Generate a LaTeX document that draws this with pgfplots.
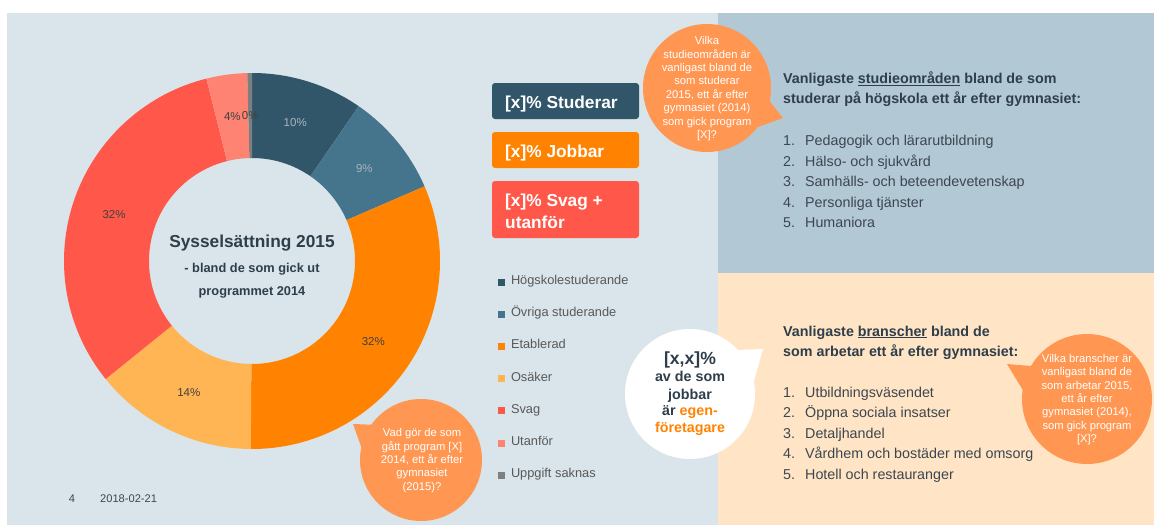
\documentclass[border=0pt]{standalone}
\usepackage{fontspec}
\setmainfont{Liberation Sans}
\usepackage{pgfplots}
\usepackage{pgfplotstable}
\pgfplotsset{compat=1.18}

\definecolor{bgleft}{HTML}{D9E5EA}
\definecolor{bgtop}{HTML}{B3C8D5}
\definecolor{bgbot}{HTML}{FFE5C6}
\definecolor{cHog}{HTML}{31566A}
\definecolor{cOvr}{HTML}{44758D}
\definecolor{cEta}{HTML}{FF8300}
\definecolor{cOsa}{HTML}{FFB554}
\definecolor{cSva}{HTML}{FF584A}
\definecolor{cUta}{HTML}{FF8373}
\definecolor{cSak}{HTML}{7F7F7F}
\definecolor{bubble}{HTML}{FF9752}
\definecolor{headtxt}{HTML}{2E3E4B}
\definecolor{listtxt}{HTML}{3C4650}
\definecolor{labdark}{HTML}{404040}
\definecolor{lablight}{HTML}{A9B4BC}
\definecolor{legtxt}{HTML}{595959}

% andel i procent, medurs fran kl. 12
\pgfplotstableread{
value col  tcol     lab
9.6   cHog lablight 10
8.9   cOvr lablight 9
31.6  cEta labdark  32
14.1  cOsa labdark  14
31.9  cSva labdark  32
3.5   cUta labdark  4
0.4   cSak labdark  0
}\donut

\newcommand\fsz[2]{\fontsize{#1}{#2}\selectfont}

\begin{document}
\begin{tikzpicture}[x=1pt,y=-1pt,
  pielab/.style={inner sep=0pt, font=\fsz{11.5}{13}},
  boxtxt/.style={inner sep=0pt, text=white, font=\fsz{17.3}{20}\bfseries},
  head/.style={inner sep=0pt, anchor=base west, text=headtxt, font=\fsz{14.3}{17}\bfseries},
  item/.style={inner sep=0pt, anchor=base west, text=listtxt, font=\fsz{14.3}{17}},
  bub/.style={inner sep=0pt, text=white, align=center, font=\fsz{11.2}{13.4}}]

\path[use as bounding box] (0,0) rectangle (1154,525);
\fill[white] (0,0) rectangle (1154,525);
\fill[bgleft] (7,13) rectangle (718,525);
\fill[bgtop] (718,13) rectangle (1154,273);
\fill[bgbot] (718,273) rectangle (1154,525);

\begin{axis}[x=1pt, y=1pt, xmin=0, xmax=1154, ymin=0, ymax=525,
  at={(0pt,-525pt)}, anchor=south west, hide axis, clip=false,
  legend style={at={(axis cs:498,248)}, anchor=north west, draw=none, fill=none,
    inner sep=0pt, outer sep=0pt, row sep=22.2pt,
    font=\fsz{12.8}{14}, text=legtxt,
    nodes={inner sep=0pt, text height=0.75em, text depth=0.25em}},
  legend cell align=left,
  legend image code/.code={\fill[#1, draw=none] (0pt,-3.5pt) rectangle (7pt,3.5pt);
    \path[draw=none, fill=none] (0pt,0pt) -- (13pt,0pt);},
]
\pgfplotstablegetrowsof{\donut}
\pgfmathtruncatemacro\nlast{\pgfplotsretval-1}
\def\cum{0}
\pgfplotsforeachungrouped \i in {0,...,\nlast}{%
  \pgfplotstablegetelem{\i}{value}\of\donut \let\val\pgfplotsretval
  \pgfplotstablegetelem{\i}{col}\of\donut \let\col\pgfplotsretval
  \pgfmathsetmacro\aS{90-3.6*\cum}
  \pgfmathsetmacro\aE{90-3.6*(\cum+\val)}
  \pgfmathsetmacro\aI{\aE+180}
  \pgfmathsetmacro\xo{252+188*cos(\aS)}
  \pgfmathsetmacro\yo{264+188*sin(\aS)}
  \edef\doslice{\noexpand\fill[\col] (axis cs:\xo,\yo)
    arc[start angle=\aS, end angle=\aE, radius=188pt]
    -- ++(\aI:85pt) arc[start angle=\aE, end angle=\aS, radius=103pt] -- cycle;}%
  \doslice
  \pgfmathsetmacro\cum{\cum+\val}
}
\def\cum{0}
\pgfplotsforeachungrouped \i in {0,...,\nlast}{%
  \pgfplotstablegetelem{\i}{value}\of\donut \let\val\pgfplotsretval
  \pgfplotstablegetelem{\i}{tcol}\of\donut \let\tcol\pgfplotsretval
  \pgfplotstablegetelem{\i}{lab}\of\donut \let\lab\pgfplotsretval
  \pgfmathsetmacro\aM{90-3.6*(\cum+\val/2)}
  \pgfmathsetmacro\xl{252+145.5*cos(\aM)}
  \pgfmathsetmacro\yl{264+145.5*sin(\aM)}
  \edef\dolab{\noexpand\node[pielab, text=\tcol] at (axis cs:\xl,\yl) {\lab\noexpand\%};}%
  \dolab
  \pgfmathsetmacro\cum{\cum+\val}
}
\addlegendimage{cHog}\addlegendentry{Högskolestuderande}
\addlegendimage{cOvr}\addlegendentry{Övriga studerande}
\addlegendimage{cEta}\addlegendentry{Etablerad}
\addlegendimage{cOsa}\addlegendentry{Osäker}
\addlegendimage{cSva}\addlegendentry{Svag}
\addlegendimage{cUta}\addlegendentry{Utanför}
\addlegendimage{cSak}\addlegendentry{Uppgift saknas}
\end{axis}

% text i munkens mitt
\node[inner sep=0pt, anchor=base, text=headtxt, font=\fsz{17.3}{20}\bfseries] at (252,247) {Sysselsättning 2015};
\node[inner sep=0pt, anchor=base, text=headtxt, font=\fsz{12.8}{15}\bfseries] at (252,272) {- bland de som gick ut};
\node[inner sep=0pt, anchor=base, text=headtxt, font=\fsz{12.8}{15}\bfseries] at (252,295) {programmet 2014};

% rutor
\fill[cHog, rounded corners=3pt] (492,83) rectangle (639,119);
\node[boxtxt, anchor=base west] at (505,108) {[x]\% Studerar};
\fill[cEta, rounded corners=3pt] (492,132) rectangle (639,168);
\node[boxtxt, anchor=base west] at (505,157.3) {[x]\% Jobbar};
\fill[cSva, rounded corners=3pt] (492,181) rectangle (639,238);
\node[boxtxt, anchor=base west] at (505,206.5) {[x]\% Svag +};
\node[boxtxt, anchor=base west] at (505,228) {utanför};

% pratbubblor
\fill[bubble] (707,88) circle (64);
\fill[bubble] (767,98) -- (783,118) -- (755,128) -- cycle;
\node[bub] at (707,88.7) {Vilka\\studieområden är\\vanligast bland de\\som studerar\\2015, ett år efter\\gymnasiet (2014)\\som gick program\\{[X]?}};

\fill[bubble] (421,460) circle (61);
\fill[bubble] (353,424) -- (380,425) -- (363,452) -- cycle;
\node[bub] at (422,460.5) {Vad gör de som\\gått program [X]\\2014, ett år efter\\gymnasiet\\(2015)?};

\fill[bubble] (1087,399) circle (65);
\fill[bubble] (1007,364) -- (1031,366) -- (1024,392) -- cycle;
\node[bub] at (1087,399.5) {Vilka branscher är\\vanligast bland de\\som arbetar 2015,\\ett år efter\\gymnasiet (2014),\\som gick program\\{[X]?}};

\fill[white] (690,394) circle (65);
\fill[white] (763,349) -- (738,350) -- (754,381) -- cycle;
\node[inner sep=0pt, anchor=base, text=headtxt, font=\fsz{17.6}{20}\bfseries] at (690,364.3) {[x,x]\%};
\node[inner sep=0pt, anchor=base, text=headtxt, font=\fsz{14.3}{17}\bfseries] at (690,381.5) {av de som};
\node[inner sep=0pt, anchor=base, text=headtxt, font=\fsz{14.3}{17}\bfseries] at (690,399) {jobbar};
\node[inner sep=0pt, anchor=base, text=headtxt, font=\fsz{14.3}{17}\bfseries] at (690,415.7) {är \textcolor{cEta}{egen-}};
\node[inner sep=0pt, anchor=base, text=cEta, font=\fsz{14.3}{17}\bfseries] at (690,432.3) {företagare};

% studieomraden
\node[head] at (783,83.3) {Vanligaste \underline{studieområden} bland de som};
\node[head] at (783,103.5) {studerar på högskola ett år efter gymnasiet:};
\foreach \n/\t [count=\k from 0] in {1/Pedagogik och lärarutbildning, 2/Hälso- och sjukvård,
  3/Samhälls- och beteendevetenskap, 4/Personliga tjänster, 5/Humaniora}{
  \node[item] at (783,145.7+20.5*\k) {\n.};
  \node[item] at (805,145.7+20.5*\k) {\t};
}

% branscher
\node[head] at (783,336) {Vanligaste \underline{branscher} bland de};
\node[head] at (783,356.7) {som arbetar ett år efter gymnasiet:};
\foreach \n/\t [count=\k from 0] in {1/Utbildningsväsendet, 2/Öppna sociala insatser,
  3/Detaljhandel, 4/Vårdhem och bostäder med omsorg, 5/Hotell och restauranger}{
  \node[item] at (783,397.3+20.5*\k) {\n.};
  \node[item] at (805,397.3+20.5*\k) {\t};
}

% sidfot
\node[inner sep=0pt, anchor=base, text=listtxt, font=\fsz{11.1}{13}] at (72,502.3) {4};
\node[inner sep=0pt, anchor=base west, text=listtxt, font=\fsz{11.1}{13}] at (100,502.3) {2018-02-21};
\end{tikzpicture}
\end{document}
